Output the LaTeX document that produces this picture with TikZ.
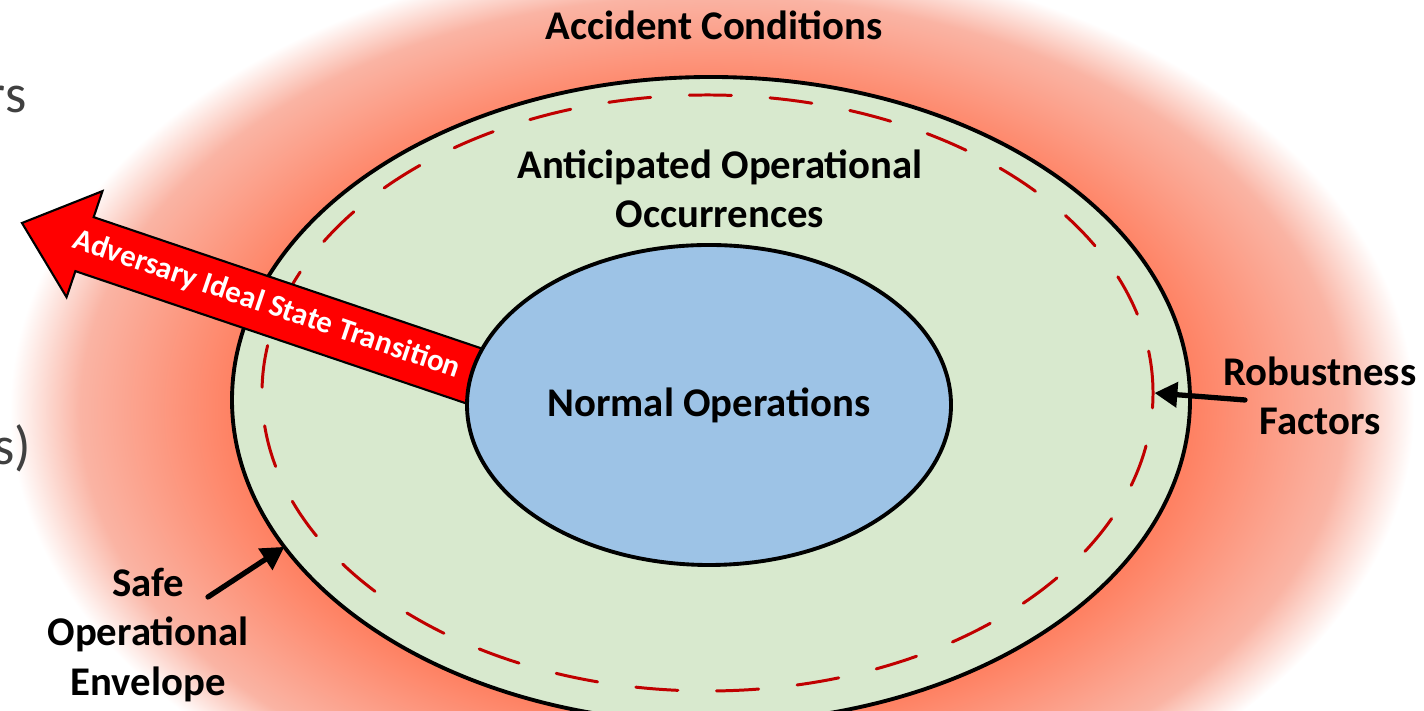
\documentclass[tikz,border=0pt]{standalone}
\usepackage{fontspec}
\setmainfont{Carlito}
\usetikzlibrary{shapes.geometric,arrows.meta}

\definecolor{glowred}{RGB}{255,124,92}
\definecolor{glowpale}{RGB}{250,180,164}
\definecolor{aoogreen}{RGB}{216,233,206}
\definecolor{normblue}{RGB}{157,195,230}
\definecolor{robred}{RGB}{192,0,0}
\definecolor{slidegray}{RGB}{64,64,64}
\pgfdeclareradialshading{glow}{\pgfpoint{0bp}{0bp}}{color(0bp)=(glowred); color(16.5bp)=(glowred); color(22.5bp)=(glowpale); color(25bp)=(white); color(50bp)=(white)}

\begin{document}
\begin{tikzpicture}[line cap=round,
    zone/.style={ellipse, draw=black, line width=1.1pt, inner sep=0pt, outer sep=0pt},
    lbl/.style={font=\fontsize{11.6}{14}\selectfont\bfseries, align=center},
    pointer/.style={-{Triangle[length=6.5pt,width=7pt]}, line width=1.5pt}]
    \useasboundingbox (0,0) rectangle (14.24,7.11);

    % glow of the accident conditions
    \shade[shading=glow] (7.12,3.01) ellipse (7.02cm and 4.6cm);

    % safe operational envelope
    \node[zone, fill=aoogreen, minimum width=9.58cm, minimum height=6.46cm] (soe) at (7.11,3.11) {};

    % robustness factors
    \node[ellipse, draw=robred, line width=0.85pt, dash pattern=on 12pt off 11pt,
        minimum width=8.91cm, minimum height=5.96cm, inner sep=0pt] (rob) at (7.075,3.18) {};

    % adversary arrow
    \begin{scope}[shift={(0.22,4.88)}, rotate=-18.7]
        \draw[fill=red, line width=0.6pt, line cap=butt, line join=miter]
            (0,0) -- (0.66,0.56) -- (0.66,0.285) -- (5.2,0.285)
            -- (5.2,-0.285) -- (0.66,-0.285) -- (0.66,-0.56) -- cycle;
        \node[text=white, font=\fontsize{8.8}{10}\selectfont\bfseries, rotate=-18.7] (adv) at (2.58,0.01) {Adversary Ideal State Transition};
    \end{scope}

    % normal operations
    \node[zone, fill=normblue, minimum width=4.84cm, minimum height=3.2cm, lbl] (norm) at (7.09,3.06) {Normal Operations};

    % text of the zones
    \node[lbl] (acc) at (7.14,6.86) {Accident Conditions};
    \node[lbl] (aoo) at (7.20,5.22) {Anticipated Operational\\Occurrences};
    \node[lbl] (robtxt) at (13.20,3.15) {Robustness\\Factors};
    \node[lbl] (safe) at (1.48,0.76) {Safe\\Operational\\Envelope};

    % cut text of the slide
    \node[anchor=base east, inner sep=0pt, text=slidegray, font=\fontsize{15.5}{18}\selectfont] (frag1) at (0.27,5.98) {rs};
    \node[anchor=base east, inner sep=0pt, text=slidegray, font=\fontsize{15.5}{18}\selectfont] (frag2) at (0.32,2.46) {s)};

    % pointers
    \coordinate (safetail) at (2.08,1.14);
    \coordinate (robtail) at (12.45,3.11);
    \draw[pointer] (safetail) -- (soe.199);
    \draw[pointer] (robtail) -- (rob.east);
\end{tikzpicture}
\end{document}
